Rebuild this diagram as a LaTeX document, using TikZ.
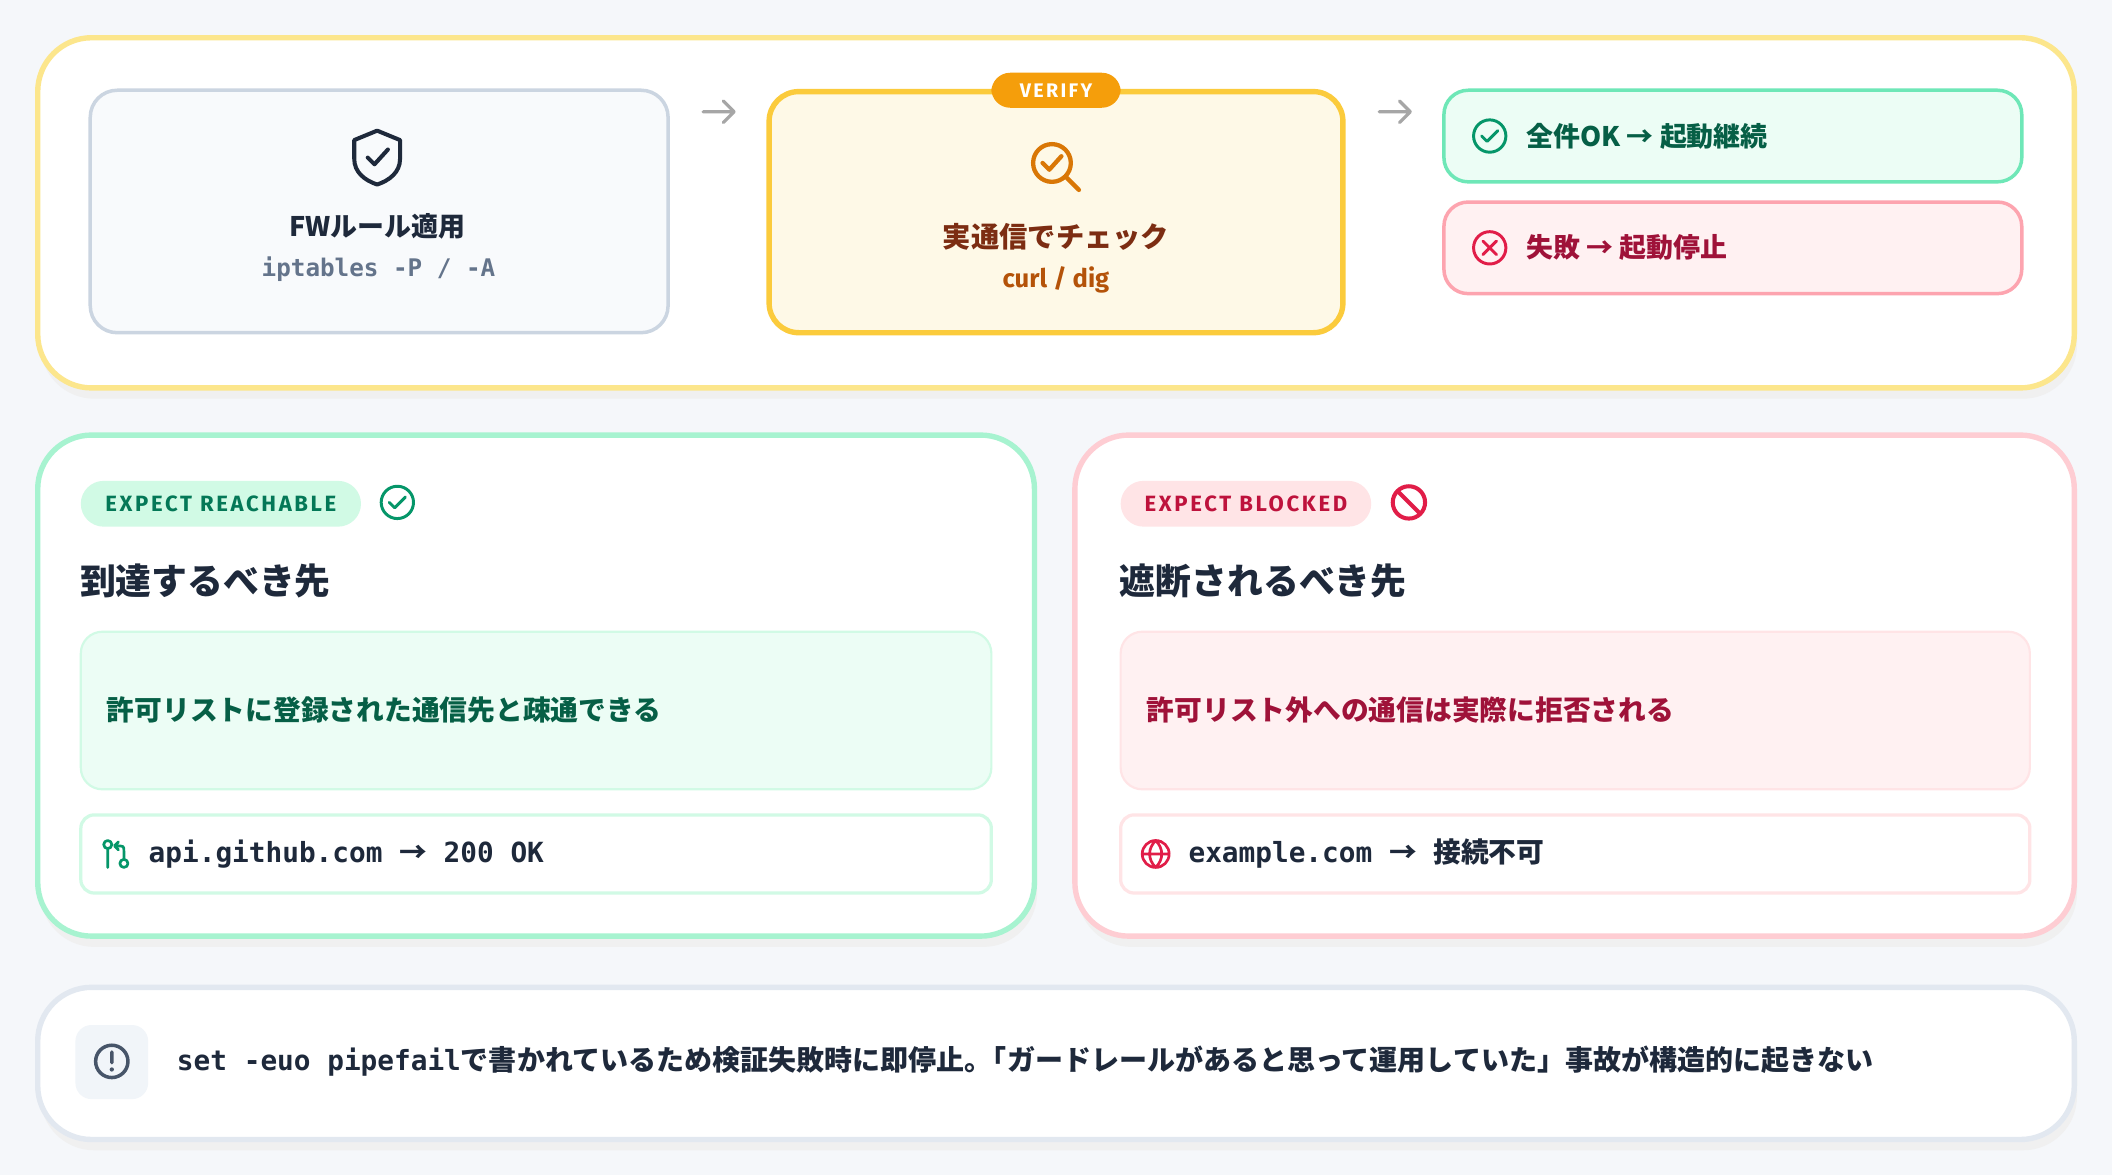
\documentclass[tikz,border=0pt]{standalone}
\usepackage{fontspec}
\setmainfont{Fira Sans}
\setmonofont{DejaVu Sans Mono}
\newfontfamily\jpbase{Noto Sans CJK JP}
\newcommand\jpb{\jpbase\bfseries}
\newfontfamily\lab[LetterSpace=12]{Fira Sans}
\begin{document}
\begin{tikzpicture}[x=0.5pt,y=-0.5pt,
 panel/.style={rounded corners=20pt,line width=2pt,fill=white},
 ico/.style={line width=1.1pt,line cap=round,line join=round},
 jt/.style={inner sep=0pt}]
\definecolor{bg}{HTML}{F5F7FA}
\definecolor{slate}{HTML}{1E293B}
\definecolor{slg}{HTML}{475569}
\fill[bg] (0,0) rectangle (1568,872);
\useasboundingbox (0,0) rectangle (1568,872);
% shadows
\foreach \a/\b/\c/\d in {28/28/1540/288,28/323/768/695,798/323/1540/695,28/733/1540/846}
 \fill[black!6,rounded corners=20pt] (\a+2,\b+8) rectangle (\c+2,\d+8);
% top panel
\draw[panel,draw={rgb,255:red,252;green,230;blue,140}] (28,28) rectangle (1540,288);
\node[draw={rgb,255:red,203;green,213;blue,225},fill={rgb,255:red,248;green,250;blue,252},line width=1.3pt,rounded corners=10pt,minimum width=214.5pt,minimum height=90pt] (fw) at (281.5,157) {};
\draw[ico,line width=1.5pt,draw=slate] (280,97) -- (297,104) -- (297,118) .. controls (297,128) and (289,134) .. (280,137) .. controls (271,134) and (263,128) .. (263,118) -- (263,104) -- cycle;
\draw[ico,line width=1.5pt,draw=slate] (273,117) -- (278,122) -- (288,111);
\node[jt,font=\jpb\fontsize{10pt}{12pt}\selectfont,text=slate] (fwt) at (280,168) {FWルール適用};
\node[inner sep=0pt,font=\ttfamily\fontsize{9pt}{11pt}\selectfont\bfseries,text={rgb,255:red,100;green,116;blue,139}] (fws) at (281,200) {iptables -P / -A};
% arrows
\coordinate (a1) at (522,83); \coordinate (a2) at (545,83);
\draw[line width=1.2pt,gray!70,line cap=round] (a1) -- (a2) (a2) -- ++(-8,-8) (a2) -- ++(-8,8);
\coordinate (b1) at (1024,83); \coordinate (b2) at (1047,83);
\draw[line width=1.2pt,gray!70,line cap=round] (b1) -- (b2) (b2) -- ++(-8,-8) (b2) -- ++(-8,8);
% verify
\node[draw={rgb,255:red,251;green,203;blue,60},fill={rgb,255:red,254;green,249;blue,231},line width=2pt,rounded corners=11pt,minimum width=213pt,minimum height=89.5pt] (vb) at (784,157.5) {};
\node[fill={rgb,255:red,245;green,158;blue,11},rounded corners=7pt,text=white,font=\lab\bfseries\fontsize{7.3pt}{8pt}\selectfont,minimum width=48pt,minimum height=13pt,inner sep=0pt] (vl) at (784,67) {VERIFY};
\definecolor{org}{HTML}{D97706}
\draw[ico,org,line width=1.6pt] (781,121) circle (14) (791,131) -- (801,141);
\draw[ico,org,line width=1.6pt] (774,121) -- (779,126) -- (788,116);
\node[jt,font=\jpb\fontsize{10.5pt}{12pt}\selectfont,text={rgb,255:red,124;green,45;blue,18}] (vt) at (784,176) {実通信でチェック};
\node[inner sep=0pt,font=\bfseries\fontsize{9.5pt}{11pt}\selectfont,text={rgb,255:red,180;green,83;blue,9}] (vs) at (784,208) {curl / dig};
% ok / fail
\definecolor{g1}{HTML}{059669}\definecolor{g2}{HTML}{065F46}
\definecolor{r1}{HTML}{E11D48}\definecolor{r2}{HTML}{9F1239}
\node[draw={rgb,255:red,110;green,231;blue,183},fill={rgb,255:red,236;green,253;blue,245},line width=1.3pt,rounded corners=9pt,minimum width=214.5pt,minimum height=34pt] (ok) at (1286.5,101) {};
\draw[ico,g1] (1106,101) circle (12) (1100,101) -- (1104,105) -- (1112,97);
\node[jt,anchor=west,font=\jpb\fontsize{10pt}{12pt}\selectfont,text=g2] (okt) at (1133,101) {全件OK → 起動継続};
\node[draw={rgb,255:red,253;green,164;blue,175},fill={rgb,255:red,255;green,241;blue,242},line width=1.3pt,rounded corners=9pt,minimum width=214.5pt,minimum height=34pt] (ng) at (1286.5,184) {};
\draw[ico,r1] (1106,184) circle (12) (1101,179) -- (1111,189) (1111,179) -- (1101,189);
\node[jt,anchor=west,font=\jpb\fontsize{10pt}{12pt}\selectfont,text=r2] (ngt) at (1133,184) {失敗 → 起動停止};
% green panel
\draw[panel,draw={rgb,255:red,167;green,243;blue,208}] (28,323) rectangle (768,695);
\node[fill={rgb,255:red,209;green,250;blue,229},rounded corners=8.5pt,minimum width=104pt,minimum height=17pt,inner sep=0pt,text={rgb,255:red,4;green,120;blue,87},font=\lab\bfseries\fontsize{8.2pt}{9pt}\selectfont] (gp) at (164,374) {EXPECT REACHABLE};
\draw[ico,g1] (295,373) circle (12) (289,373) -- (293,377) -- (301,369);
\node[jt,anchor=west,font=\jpb\fontsize{13.3pt}{15pt}\selectfont,text=slate] (gh) at (59,431) {到達するべき先};
\node[draw={rgb,255:red,209;green,250;blue,229},fill={rgb,255:red,236;green,253;blue,245},line width=0.8pt,rounded corners=8pt,minimum width=338pt,minimum height=58.5pt] (gb) at (398,527.5) {};
\node[jt,anchor=west,font=\jpb\fontsize{10.3pt}{12pt}\selectfont,text=g2] (gbt) at (79,527) {許可リストに登録された通信先と疎通できる};
\node[draw={rgb,255:red,209;green,250;blue,229},fill=white,line width=1.2pt,rounded corners=5pt,minimum width=338pt,minimum height=29pt] (gc) at (398,634) {};
\draw[ico,g1,line width=1pt] (80,627) circle (3) (92,641) circle (3) (80,630) -- (80,644) (92,638) -- (92,632) .. controls (92,628) .. (86,628) (88,625) -- (85,628) -- (88,631);
\node[inner sep=0pt,anchor=west,font=\ttfamily\bfseries\fontsize{10.3pt}{12pt}\selectfont,text=slate] (gct) at (110,634) {api.github.com {\jpb →} 200 OK};
% red panel
\draw[panel,draw={rgb,255:red,254;green,205;blue,211}] (798,323) rectangle (1540,695);
\node[fill={rgb,255:red,255;green,228;blue,230},rounded corners=8.5pt,minimum width=93pt,minimum height=17pt,inner sep=0pt,text={rgb,255:red,190;green,18;blue,60},font=\lab\bfseries\fontsize{8.2pt}{9pt}\selectfont] (rp) at (925,374) {EXPECT BLOCKED};
\draw[ico,r1,line width=1.5pt] (1046,373) circle (12) (1037.5,364.5) -- (1054.5,381.5);
\node[jt,anchor=west,font=\jpb\fontsize{13.3pt}{15pt}\selectfont,text=slate] (rh) at (831,431) {遮断されるべき先};
\node[draw={rgb,255:red,255;green,228;blue,230},fill={rgb,255:red,255;green,241;blue,242},line width=0.8pt,rounded corners=8pt,minimum width=337.5pt,minimum height=58.5pt] (rb) at (1169.5,527.5) {};
\node[jt,anchor=west,font=\jpb\fontsize{10.3pt}{12pt}\selectfont,text=r2] (rbt) at (851,527) {許可リスト外への通信は実際に拒否される};
\node[draw={rgb,255:red,255;green,228;blue,230},fill=white,line width=1.2pt,rounded corners=5pt,minimum width=337.5pt,minimum height=29pt] (rc) at (1169.5,634) {};
\draw[ico,r1,line width=1pt] (858,634) circle (10) (848,634) -- (868,634) (858,624) .. controls (852,630) and (852,638) .. (858,644) (858,624) .. controls (864,630) and (864,638) .. (858,644);
\node[inner sep=0pt,anchor=west,font=\ttfamily\bfseries\fontsize{10.3pt}{12pt}\selectfont,text=slate] (rct) at (882,634) {example.com {\jpb →} {\jpb 接続不可}};
% bottom
\draw[panel,draw={rgb,255:red,226;green,232;blue,240}] (28,733) rectangle (1540,846);
\node[fill={rgb,255:red,241;green,245;blue,249},rounded corners=6pt,minimum width=27pt,minimum height=27.5pt] (ib) at (83,788.5) {};
\draw[ico,line width=1.3pt,draw=slg] (83,788) circle (12) (83,781) -- (83,789);
\fill[slg] (83,794) circle (1.6);
\node[inner sep=0pt,anchor=west,text=slate] (bt) at (131,788) {\ttfamily\bfseries\fontsize{10.3pt}{12pt}\selectfont set -euo pipefail\jpb\fontsize{10.4pt}{12pt}\selectfont で書かれているため検証失敗時に即停止。\kern-5pt「ガードレールがあると思って運用していた」事故が構造的に起きない};
\end{tikzpicture}
\end{document}
